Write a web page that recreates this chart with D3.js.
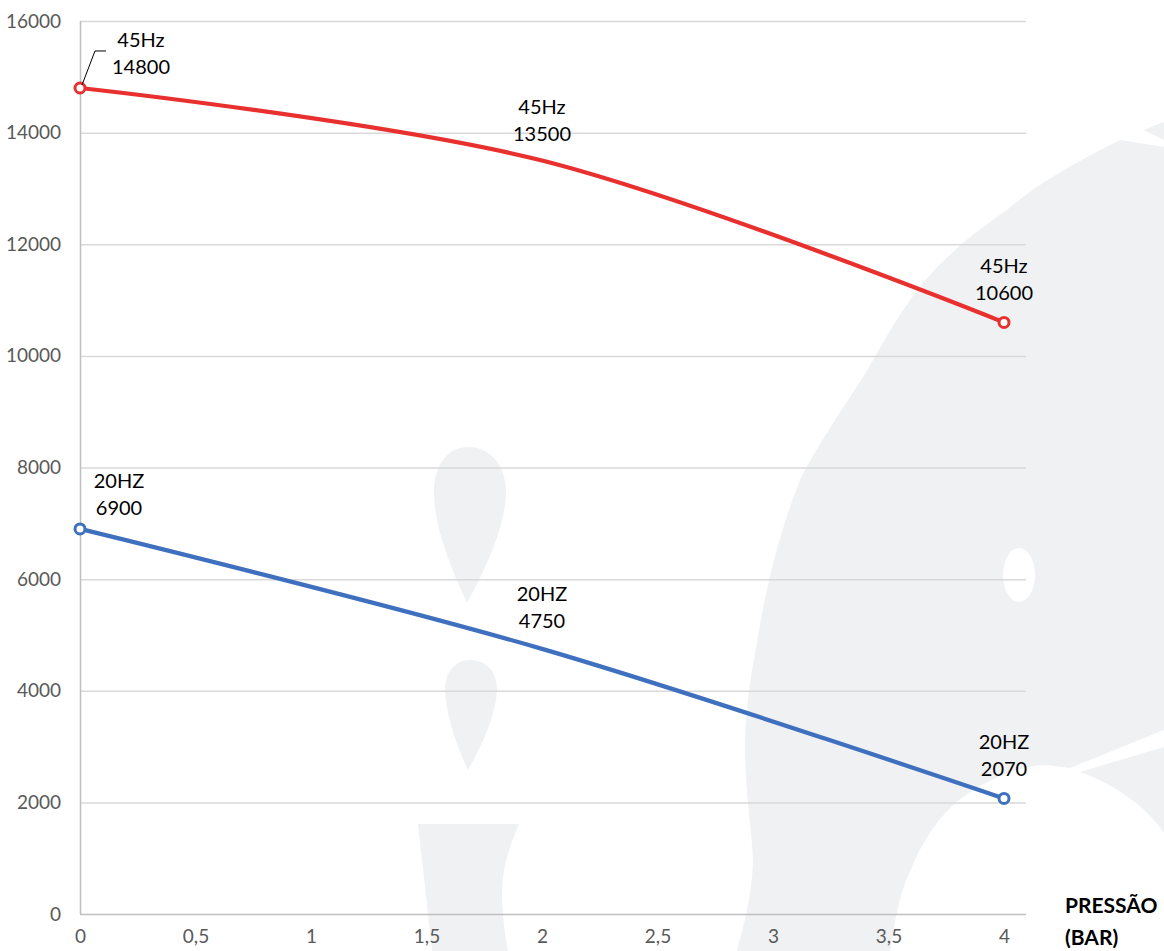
<!DOCTYPE html>
<html><head><meta charset="utf-8">
<script src="https://cdn.jsdelivr.net/npm/d3@7"></script>
<style>
html,body{margin:0;padding:0;background:#fff;}
svg{display:block;}
</style></head>
<body>
<svg id="chart" width="1164" height="951"></svg>
<script>
// ---- data ----
const pressure = [0, 2, 4];
const hz45 = [14800, 13500, 10600];
const hz20 = [6900, 4750, 2070];
const labels45 = ["45Hz", "45Hz", "45Hz"];
const labels20 = ["20HZ", "20HZ", "20HZ"];
const xTicks = [0, 0.5, 1, 1.5, 2, 2.5, 3, 3.5, 4];
const yTicks = [0, 2000, 4000, 6000, 8000, 10000, 12000, 14000, 16000];
const axisTitle = ["PRESSÃO", "(BAR)"];

const W = 1164, H = 951;
const m = {left: 80, right: 1026, top: 21, bottom: 914};
const svg = d3.select("#chart");
const x = d3.scaleLinear().domain([0, 4]).range([m.left, 1004]);
const y = d3.scaleLinear().domain([0, 16000]).range([m.bottom, m.top]);
const font = "Lato, 'Open Sans', sans-serif";

// ---- watermark background ----
const wm = svg.append("g").attr("fill", "#f0f1f3");
wm.append("path").attr("d",
  "M1164,147 L1120,140 C1080,160 1035,185 1007,210 C985,225 965,240 952,253 C915,285 890,330 867,371 C835,420 815,450 800,480 C780,530 765,590 757,643 C748,690 745,720 745,751 C746,800 752,830 753,860 C752,900 742,930 737,951 L1164,951 Z");
wm.append("path").attr("d", "M1143,130 L1164,122 L1164,140 Z");
wm.append("path").attr("d",
  "M468,447 C490,447 507,465 506,495 C504,530 485,570 467,603 C452,570 435,530 434,495 C433,465 448,447 468,447 Z");
wm.append("path").attr("d",
  "M470,660 C487,660 497,672 497,690 C496,715 482,745 468,770 C456,745 446,715 445,690 C445,672 455,660 470,660 Z");
wm.append("path").attr("d",
  "M418,824 L519,824 C510,845 503,865 502,890 C502,915 505,935 508,951 L432,951 C428,910 422,860 418,824 Z");
const wc = svg.append("g").attr("fill", "#ffffff");
wc.append("path").attr("d",
  "M890,951 C895,920 900,890 912,867 C925,835 945,810 963,797 C990,778 1020,765 1047,765 L1070,768 L1164,730 L1164,747 L1080,772 C1115,785 1145,805 1164,833 L1164,951 Z");
wc.append("ellipse").attr("cx", 1019).attr("cy", 575).attr("rx", 16).attr("ry", 27);

// ---- grid ----
svg.append("g").selectAll("line").data(yTicks.filter(d => d > 0)).join("line")
  .attr("x1", m.left).attr("x2", m.right)
  .attr("y1", d => y(d) + 0.5).attr("y2", d => y(d) + 0.5)
  .attr("stroke", "#d9d9d9").attr("stroke-width", 1.5);

// axes lines
svg.append("line").attr("x1", m.left).attr("x2", m.right).attr("y1", y(0) + 0.5).attr("y2", y(0) + 0.5)
  .attr("stroke", "#bfbfbf").attr("stroke-width", 1.5);
svg.append("line").attr("x1", m.left + 0.5).attr("x2", m.left + 0.5).attr("y1", y(16000)).attr("y2", y(0))
  .attr("stroke", "#bfbfbf").attr("stroke-width", 1.5);

// ---- tick labels via d3 axes ----
const yAxis = d3.axisLeft(y).tickValues(yTicks).tickSize(0).tickPadding(19).tickFormat(d3.format("d"));
const gy = svg.append("g").attr("transform", `translate(${m.left},0)`).call(yAxis);
gy.select(".domain").remove();
gy.selectAll("text").attr("font-family", font).attr("font-size", 19).attr("fill", "#595959");

const xAxis = d3.axisBottom(x).tickValues(xTicks).tickSize(0).tickPadding(16)
  .tickFormat(d => String(d).replace(".", ","));
const gx = svg.append("g").attr("transform", `translate(0,${m.bottom})`).call(xAxis);
gx.select(".domain").remove();
gx.selectAll("text").attr("font-family", font).attr("font-size", 19).attr("fill", "#595959");

// ---- series ----
const series = [
  {vals: hz45, labels: labels45, color: "#e8302e"},
  {vals: hz20, labels: labels20, color: "#3f70bf"}
];
const line = d3.line().x(d => x(d[0])).y(d => y(d[1])).curve(d3.curveCatmullRom.alpha(0.5));
series.forEach(s => {
  const pts = pressure.map((p, i) => [p, s.vals[i]]);
  svg.append("path").attr("d", line(pts)).attr("fill", "none")
    .attr("stroke", s.color).attr("stroke-width", 4.2).attr("stroke-linecap", "round");
  [0, 2].forEach(i => {
    svg.append("circle").attr("cx", x(pts[i][0])).attr("cy", y(pts[i][1])).attr("r", 5)
      .attr("fill", "#fff").attr("stroke", s.color).attr("stroke-width", 3);
  });
});

// ---- data labels ----
function label(cx, cyTop, t1, t2) {
  const t = svg.append("text").attr("font-family", font).attr("font-size", 20)
    .attr("fill", "#000").attr("text-anchor", "middle");
  t.append("tspan").attr("x", cx).attr("y", cyTop).text(t1);
  t.append("tspan").attr("x", cx).attr("y", cyTop + 27).text(t2);
}
// 45Hz
label(x(0) + 61, y(hz45[0]) - 41, labels45[0], hz45[0]);
label(x(2), y(hz45[1]) - 47, labels45[1], hz45[1]);
label(x(4), y(hz45[2]) - 49, labels45[2], hz45[2]);
// 20HZ
label(x(0) + 39, y(hz20[0]) - 41, labels20[0], hz20[0]);
label(x(2), y(hz20[1]) - 48, labels20[1], hz20[1]);
label(x(4), y(hz20[2]) - 49, labels20[2], hz20[2]);
// leader line for first 45Hz label
svg.append("polyline")
  .attr("points", `${x(0)+2},${y(hz45[0])-3} ${x(0)+15},${y(hz45[0])-37} ${x(0)+26},${y(hz45[0])-37}`)
  .attr("fill", "none").attr("stroke", "#000").attr("stroke-width", 1);

// ---- axis title ----
const at = svg.append("text").attr("font-family", font).attr("font-size", 21).attr("font-weight", "bold").attr("fill", "#000");
at.append("tspan").attr("x", 1065).attr("y", 913).text(axisTitle[0]);
at.append("tspan").attr("x", 1065).attr("y", 945).text(axisTitle[1]);
</script>
</body></html>
